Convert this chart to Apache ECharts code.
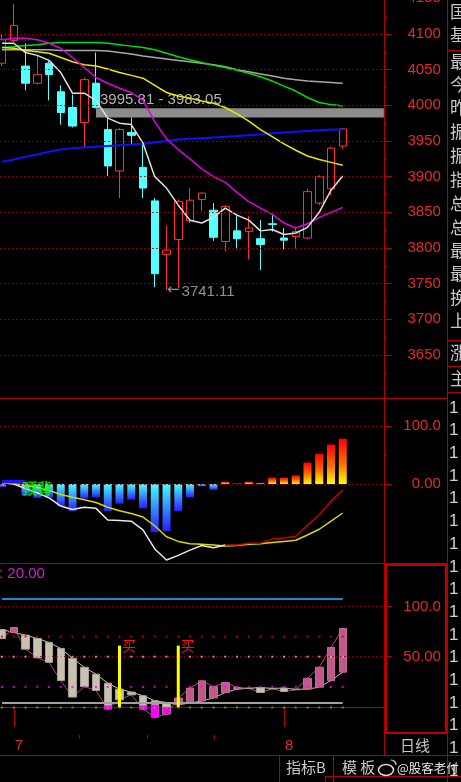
<!DOCTYPE html>
<html>
<head>
<meta charset="utf-8">
<title>K线</title>
<script src="https://cdn.jsdelivr.net/npm/echarts@6.0.0/dist/echarts.min.js"></script>
<style>
html,body{margin:0;padding:0;background:#000;overflow:hidden;}
#chart{width:461px;height:782px;}
</style>
</head>
<body>
<div id="chart"></div>
<script>
// ================= DATA =================
const SLOT_COUNT = 33;                 // category slots on the x axis (right ones stay empty)
const MONTH_MARKS = {1: '7', 24: '8'}; // slot index -> month label

// main K-line (price)
const OPEN  = [4059,4091,4055,4031,4059,4019,3997,3976,4031,3966,3908,3962,3913,3866,3791,3812,3838,3868,3853,3809,3824,3823,3813,3834,3814,3816,3814,3863,3883,3943];
const CLOSE = [4092,4112,4031,4043,4043,3990,3971,4036,3997,3915,3966,3958,3884,3764,3797,3865,3867,3877,3815,3858,3813,3828,3805,3833,3811,3823,3879,3900,3940,3967];
const LOW   = [4055,4088,4021,4029,4007,3973,3969,3940,3995.81,3901,3870,3945,3870,3745,3741.11,3744,3835,3852,3810,3795,3798,3784,3769,3823,3798,3799,3812,3860,3874,3939];
const HIGH  = [4100,4142,4087,4070,4062,4028,4015,4039,4074,3983.05,3968,3983,3945,3870,3831,3868,3884,3878,3863,3860,3846,3845,3839,3848,3828,3830,3883,3902,3942,3968];

const MA_WHITE   = [4087,4087,4074,4070,4063,4046,4017,4017,4007,3982,3975,3973,3947,3900,3884,3860,3839,3835,3843,3856,3846,3839,3824,3826,3819,3821,3829,3850,3881,3901];
const MA_MAGENTA = [4092,4094,4094,4092,4087,4080,4067,4053,4039,4031,4024,4018,4007,3977,3953,3938,3925,3911,3900,3892,3878,3865,3856,3847,3835,3828,3834,3843,3850,3857];
const MA_YELLOW  = [4081,4080,4077,4075,4073,4067,4061,4057,4055,4051,4046,4042,4038,4028,4018,4013,4010,4006,4003,3997,3988,3978,3966,3956,3946,3937,3929,3924,3920,3916];
const MA_GREEN   = [4081,4082,4084,4085,4087,4088,4088,4088,4088,4087,4085,4083,4081,4078,4073,4068,4064,4060,4056,4053,4049,4045,4040,4034,4027,4020,4011,4004,4001,3999];
const MA_GRAY    = [4078,4078,4078,4078,4078,4077,4077,4077,4077,4076,4074,4072,4069,4067,4065,4063,4061,4059,4057,4054,4050,4047,4044,4041,4038,4036,4034,4033,4032,4031];
const MA_BLUE    = [3921,3924,3928,3931,3935,3938,3940,3941,3942,3943,3944,3945,3946,3948,3950,3952,3953,3954,3955,3956,3957,3958,3959,3961,3962,3963,3964,3965,3966,3966];

const GAP_START = 8;          // gap band starts at this candle
const GAP_TOP = 3995.81;
const GAP_BOTTOM = 3983.05;

const PRICE_LABELS = [3650,3700,3750,3800,3850,3900,3950,4000,4050,4100,4150];
const PRICE_MINOR  = [3625,3675,3725,3775,3825,3875,3925,3975,4025,4075,4125];
const PRICE_GRID   = [3650,3700,3750,3800,3850,3900,3950,4000,4050,4100];

// MACD panel
const MACD_HIST = [-5,3,-20,-24,-24,-38,-47,-25,-23,-47,-34,-27,-42,-83,-81,-47,-23,-4,-10,4,1,4,2,11,11,15,37,52,68,78];
const DIF = [2,0,-8,-15,-24,-38,-44,-40,-42,-62,-63,-64,-79,-112,-131,-123,-114,-106,-110,-105,-105,-102,-102,-95,-93,-90,-71,-53,-30,-10];
const DEA = [2,1,-2,-6,-11,-18,-23,-27,-32,-40,-46,-51,-57,-72,-91,-99,-103,-104,-105,-107,-106,-104,-103,-101,-99,-97,-88,-78,-64,-50];
const DIF_TURN = 19;            // DIF drawn red from this candle on
const SIGNAL_LINE = [4,4,4];    // short blue signal segment at left
const DIVERGENCE_AT = [3, -7];  // where the "顶背" mark sits
const MACD_LABELS = [0,100];
const MACD_MINOR = [50];
const MACD_GRID = [0,100];

// oscillator panel
const OSC_FAST = [68,79,57.5,49,44.4,26.3,9.9,20.3,16.4,-2,7.2,12.1,-2,-10,-7,8.9,18.8,26,20.3,24.3,19.5,18.5,14.4,18,15.4,17.2,28.6,39.5,59.2,78];
const OSC_SLOW = [77,74,71.4,68.1,64.2,58.2,48.4,39.5,32.6,23.7,17.8,14.8,11.2,6.2,4.5,2.3,4,6,9,14.4,17.8,18.6,19.3,18.5,18.8,17.6,17.8,19.7,26.3,34.6];
const STICK_IDX = [9,12,13,14];
const STICK_TOP = [1.6,1.6,2.3,0];
const BUY_IDX = [10,15];
const BUY_TOP = 61;
const OSC_LEVEL_HIGH = 108;
const OSC_LEVEL_LOW = 4.5;
const DOT_LEVELS = [70,50,20,-0.5];
const OSC_LABELS = [50,100];
const OSC_MINOR = [25,75];
const OSC_GRID = [50,100];

// ================= STYLE / LAYOUT =================
const FONT = '"Liberation Sans", Arial, sans-serif';
const CJK = '"Noto Sans CJK SC", sans-serif';
const FRAME = '#b00000';
const LABEL_RED = '#e82828';
const DOT_RED = '#a00000';
const PLOT_LEFT = -3.875, PLOT_WIDTH = 387.75;
const PANELS = [
  {top: -1.67, height: 399.67, min: 3589.7, max: 4150},
  {top: 398, height: 165, min: -136.2, max: 148.3},
  {top: 563, height: 172, min: -27.8, max: 143.1}
];
const DOT_COLORS = ['#e00000','#b8b8ff','#ff00ff','#a0a000'];

const SLOTS = Array.from({length: SLOT_COUNT}, (_, i) => String(i));

function fmt4(v){ return v === 0 ? '0.00' : Number(v).toPrecision(4); }

function gridMarkLine(values){
  return {silent:true, symbol:'none', animation:false, label:{show:false},
    lineStyle:{color:DOT_RED, type:[1.5,2.5], width:1},
    data: values.map(v => ({yAxis:v}))};
}
function yMain(g, labels, formatter){
  const p = PANELS[g];
  return {type:'value', gridIndex:g, position:'right', min:p.min, max:p.max,
    splitLine:{show:false},
    axisLine:{show:true, lineStyle:{color:FRAME, width:1}},
    axisTick:{show:true, inside:false, length:8, customValues:labels, lineStyle:{color:FRAME}},
    axisLabel:{show:true, customValues:labels, formatter, align:'right', margin:57,
      color:LABEL_RED, fontSize:15, fontFamily:FONT, showMinLabel:true, showMaxLabel:true}};
}
function yMinor(g, ticks){
  const p = PANELS[g];
  return {type:'value', gridIndex:g, position:'right', min:p.min, max:p.max,
    splitLine:{show:false}, axisLine:{show:false}, axisLabel:{show:false},
    axisTick:{show:true, inside:false, length:3, customValues:ticks, lineStyle:{color:FRAME}}};
}
function xAxisFor(g){
  const base = {type:'category', gridIndex:g, data:SLOTS, boundaryGap:true,
    axisLine:{show:false}, axisTick:{show:false}, axisLabel:{show:false}, splitLine:{show:false}};
  if (g === 2) {
    const isMark = (idx) => MONTH_MARKS[idx] !== undefined;
    base.axisLine = {show:true, lineStyle:{color:FRAME, width:1}};
    base.axisTick = {show:true, alignWithLabel:true, length:20, interval:(idx)=>isMark(idx), lineStyle:{color:FRAME}};
    base.axisLabel = {show:true, interval:(idx)=>isMark(idx), formatter:(v, idx)=>MONTH_MARKS[idx] || '',
      align:'left', padding:[0,0,0,1], margin:3, color:LABEL_RED, fontSize:15, fontFamily:FONT};
  }
  return base;
}
function maLine(data, color, width){
  return {type:'line', xAxisIndex:0, yAxisIndex:0, data, symbol:'none', showSymbol:false,
    lineStyle:{color, width}, z:4, silent:true};
}

const lowVal = Math.min(...LOW);
const lowIdx = LOW.indexOf(lowVal);

const negGrad = new echarts.graphic.LinearGradient(0,0,0,1,[{offset:0,color:'#40ffff'},{offset:1,color:'#2a1cff'}]);
const posGrad = new echarts.graphic.LinearGradient(0,0,0,1,[{offset:0,color:'#ff0000'},{offset:0.55,color:'#ff7000'},{offset:1,color:'#ffff00'}]);

const lastIdx = OPEN.length - 1;

const series = [
  // ---- main panel ----
  {type:'line', xAxisIndex:0, yAxisIndex:0, data:[], z:1, markLine:gridMarkLine(PRICE_GRID)},
  {type:'candlestick', xAxisIndex:0, yAxisIndex:0, barWidth:8, z:3,
    data: OPEN.map((o,i)=>[o, CLOSE[i], LOW[i], HIGH[i]]),
    itemStyle:{color:'#000000', color0:'#54ffff', borderColor:'#ff3232', borderColor0:'#54ffff', borderWidth:1}},
  maLine(MA_BLUE, '#1010ff', 2),
  maLine(MA_GRAY, '#a8a8a8', 1.5),
  maLine(MA_GREEN, '#00e000', 1.5),
  maLine(MA_YELLOW, '#e8e800', 1.5),
  maLine(MA_MAGENTA, '#e000e0', 1.5),
  maLine(MA_WHITE, '#e0e0e0', 1.5),
  {type:'line', xAxisIndex:0, yAxisIndex:0, data:[], z:6,
    markArea:{silent:true, itemStyle:{color:'#8c8c8c'},
      label:{show:true, position:[4,-16], align:'left', verticalAlign:'top',
        formatter: GAP_TOP.toFixed(2) + ' - ' + GAP_BOTTOM.toFixed(2),
        color:'#b4b4b4', fontSize:15, fontFamily:FONT},
      data:[[{xAxis:GAP_START, yAxis:GAP_TOP},{yAxis:GAP_BOTTOM}]]}},
  {type:'scatter', xAxisIndex:0, yAxisIndex:0, data:[[lowIdx, lowVal]], symbolSize:1, z:7,
    itemStyle:{color:'rgba(0,0,0,0)'}, silent:true,
    label:{show:true, position:'right', distance:0,
      formatter:'{a|←}{b|' + lowVal.toFixed(2) + '}',
      rich:{a:{fontFamily:'"DejaVu Sans"', fontSize:15, color:'#b4b4b4'},
            b:{fontFamily:FONT, fontSize:15, color:'#b4b4b4', padding:[3,0,0,2]}}}},

  // ---- MACD panel ----
  {type:'line', xAxisIndex:1, yAxisIndex:1, data:[], z:1, markLine:gridMarkLine(MACD_GRID)},
  {type:'bar', xAxisIndex:1, yAxisIndex:1, data:MACD_HIST, barWidth:8, z:3, silent:true,
    itemStyle:{color:(p)=> p.value >= 0 ? posGrad : negGrad}},
  {type:'line', xAxisIndex:1, yAxisIndex:1, data:DEA, symbol:'none', lineStyle:{color:'#d8d800', width:1.5}, z:4, silent:true},
  {type:'line', xAxisIndex:1, yAxisIndex:1, data:DIF.map((v,i)=> i <= DIF_TURN ? v : '-'), symbol:'none', lineStyle:{color:'#e8e8e8', width:1.5}, z:5, silent:true},
  {type:'line', xAxisIndex:1, yAxisIndex:1, data:DIF.map((v,i)=> i >= DIF_TURN ? v : '-'), symbol:'none', lineStyle:{color:'#c80000', width:1.5}, z:5, silent:true},
  {type:'line', xAxisIndex:1, yAxisIndex:1, data:SIGNAL_LINE, symbol:'none', lineStyle:{color:'#1818ff', width:3.5}, z:5, silent:true},
  {type:'scatter', xAxisIndex:1, yAxisIndex:1, data:[DIVERGENCE_AT], symbolSize:1, z:8, zlevel:0, silent:true,
    itemStyle:{color:'rgba(0,0,0,0)'},
    label:{show:true, position:'inside', formatter:'顶背', color:'#00ff00', fontSize:15, fontWeight:'bold', fontFamily:CJK}},

  // ---- oscillator panel ----
  {type:'line', xAxisIndex:2, yAxisIndex:2, data:[], z:1,
    markLine:{silent:true, symbol:'none', animation:false, label:{show:false},
      data:[
        ...OSC_GRID.map(v => ({yAxis:v, lineStyle:{color:DOT_RED, type:[1.5,2.5], width:1}})),
        [{coord:[0, OSC_LEVEL_HIGH], lineStyle:{color:'#1e88d0', width:2, type:'solid'}},{coord:[lastIdx, OSC_LEVEL_HIGH]}],
        [{coord:[0, OSC_LEVEL_LOW], lineStyle:{color:'#a0a0a0', width:2, type:'solid'}},{coord:[lastIdx, OSC_LEVEL_LOW]}]
      ]}},
  {type:'line', xAxisIndex:2, yAxisIndex:2, data:OSC_SLOW, symbol:'none', lineStyle:{color:'#c8c0b0', width:1}, z:2, silent:true},
  {type:'line', xAxisIndex:2, yAxisIndex:2, data:OSC_FAST, symbol:'none', lineStyle:{color:'#a84c80', width:1}, z:2, silent:true},
  {type:'candlestick', xAxisIndex:2, yAxisIndex:2, barWidth:8, z:3, silent:true,
    data: OSC_SLOW.map((s,i)=>[s, OSC_FAST[i], Math.min(s, OSC_FAST[i]), Math.max(s, OSC_FAST[i])]),
    itemStyle:{color:'#c0588c', color0:'#c8c0b0', borderColor:'#c86898', borderColor0:'#a8a090', borderWidth:1}},
  {type:'custom', xAxisIndex:2, yAxisIndex:2, z:4, silent:true,
    data: STICK_IDX.map((i,k)=>[i, STICK_TOP[k], OSC_FAST[i]]),
    encode:{x:0, y:[1,2]},
    renderItem:(params, api)=>{
      const a = api.coord([api.value(0), api.value(1)]);
      const b = api.coord([api.value(0), api.value(2)]);
      return {type:'rect', shape:{x:a[0]-4, y:a[1], width:8, height:b[1]-a[1]}, style:{fill:'#ff00ff'}};
    }},
  ...DOT_LEVELS.map((lvl,k)=>({type:'scatter', xAxisIndex:2, yAxisIndex:2, z:5, silent:true,
    data: OPEN.map((_,i)=>[i, lvl]), symbol:'rect', symbolSize:2, itemStyle:{color:DOT_COLORS[k]}})),
  {type:'bar', xAxisIndex:2, yAxisIndex:2, z:6, silent:true, barWidth:3,
    data: OPEN.map((_,i)=> BUY_IDX.includes(i) ? BUY_TOP : '-'),
    itemStyle:{color:'#ffff00'},
    label:{show:true, position:[4,-7], align:'left', verticalAlign:'top', formatter:'买',
      color:'#ff1010', fontSize:14, fontFamily:CJK}}
];

// ================= FRAME GRAPHICS =================
const G = [];
function hline(x1, x2, y, color, w){ G.push({type:'line', silent:true, z:100, shape:{x1, y1:y, x2, y2:y}, style:{stroke:color || FRAME, lineWidth:w || 1}}); }
function vline(x, y1, y2, color, w){ G.push({type:'line', silent:true, z:100, shape:{x1:x, y1, x2:x, y2}, style:{stroke:color || FRAME, lineWidth:w || 1}}); }
function txt(x, y, text, size, color, family){
  G.push({type:'text', silent:true, z:101, x, y,
    style:{text, fill:color, font: size + 'px ' + family, verticalAlign:'middle'}});
}

hline(0, 448, 398.5);
hline(0, 448, 563.5);
hline(0, 461, 755.5);
vline(384.5, 735, 755);
vline(447.5, 0, 782);
vline(279.5, 755, 782);
vline(333.5, 755, 782);
hline(325, 461, 776.5);
vline(325.5, 776, 782);
G.push({type:'rect', silent:true, z:100, shape:{x:386, y:565, width:60, height:168}, style:{fill:null, stroke:'#c00000', lineWidth:2}});
[50.5, 340.5, 366.5, 392.5].forEach(y => hline(448, 461, y));
[79.5, 147.5, 214.5].forEach(x => vline(x, 735, 739));

// right info column (cut off by the window edge)
const INFO_CHARS = [['国',12],['基',35],['最',62],['今',85],['昨',108],['振',132],['振',156],['指',180],['总',204],['总',228],['最',251],['最',274],['换',298],['上',321],['涨',353],['主',379]];
INFO_CHARS.forEach(([c,y]) => txt(450, y, c, 17, '#c8c8c8', CJK));
for (let y = 408; y < 790; y += 22.7) txt(449, y, '1', 17, '#d0d0d0', FONT);

txt(-1, 574, ': 20.00', 15, '#d020d0', FONT);
txt(400, 745, '日线', 15, '#c8c8c8', CJK);
txt(286, 767, '指标B', 15, '#c8c8c8', CJK);
txt(342, 767, '模 板', 15, '#c8c8c8', CJK);
G.push({type:'ellipse', silent:true, z:101, shape:{cx:386, cy:770, rx:7.5, ry:5.5}, style:{fill:'#000', stroke:'#e0e0e0', lineWidth:1.5}});
G.push({type:'arc', silent:true, z:101, shape:{cx:391, cy:765, r:5, startAngle:-Math.PI/2, endAngle:0}, style:{fill:null, stroke:'#e0e0e0', lineWidth:1.2}});
txt(397, 768, '@股客老付', 12.5, '#e8e8e8', CJK);

// ================= CHART =================
const chart = echarts.init(document.getElementById('chart'), null, {renderer:'canvas', width:461, height:782});
chart.setOption({
  backgroundColor:'#000000',
  animation:false,
  grid: PANELS.map(p => ({left:PLOT_LEFT, width:PLOT_WIDTH, top:p.top, height:p.height,
    containLabel:false, outerBoundsMode:'none'})),
  xAxis: [0,1,2].map(xAxisFor),
  yAxis: [
    yMain(0, PRICE_LABELS, v => String(v)),
    yMain(1, MACD_LABELS, fmt4),
    yMain(2, OSC_LABELS, fmt4),
    yMinor(0, PRICE_MINOR),
    yMinor(1, MACD_MINOR),
    yMinor(2, OSC_MINOR)
  ],
  series,
  graphic: {elements: G}
});
</script>
</body>
</html>
